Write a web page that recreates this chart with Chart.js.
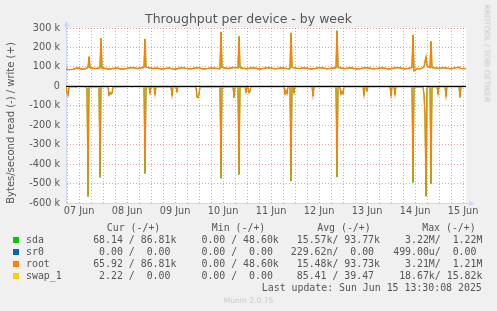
<!DOCTYPE html>
<html>
<head>
<meta charset="utf-8">
<script src="https://cdn.jsdelivr.net/npm/chart.js@4"></script>
<style>
  html, body { margin: 0; padding: 0; background: #f0f0f0; }
  #wrap { position: relative; width: 497px; height: 311px; overflow: hidden; background: #f0f0f0; }
  #chart { position: absolute; left: 0; top: 0; }
  .t { position: absolute; white-space: pre; color: #555; font-family: "DejaVu Sans", sans-serif; }
  .mono { font-family: "DejaVu Sans Mono", monospace; font-size: 9.9px; line-height: 12px; }
  .sq { position: absolute; width: 6px; height: 6px; }
</style>
</head>
<body>
<div id="wrap">
  <canvas id="chart" width="497" height="311"></canvas>
  <div class="t" id="title" style="left:0;width:497px;top:11px;text-align:center;font-size:12.5px;line-height:16px;">Throughput per device - by week</div>
  <div class="t" style="left:-89px;width:200px;top:117px;text-align:center;font-size:10px;line-height:12px;transform:rotate(-90deg);">Bytes/second read (-) / write (+)</div>
  <div class="t" style="left:412px;width:150px;top:49px;text-align:center;font-size:7.6px;line-height:9px;color:#c4c4c4;transform:rotate(90deg);">RRDTOOL / TOBI OETIKER</div>
  <div class="t" style="left:0;width:497px;top:295.5px;text-align:center;font-size:7.6px;line-height:9px;color:#c8c8c8;">Munin 2.0.75</div>
  <div id="legend"></div>
</div>
<script>
// time axis: hours since 07 Jun 00:00, one pixel = 30 minutes
const startHour = 5.5;
const endHour = 205.5;
const dayLabels = ["07 Jun", "08 Jun", "09 Jun", "10 Jun", "11 Jun", "12 Jun", "13 Jun", "14 Jun", "15 Jun"];

// write side (+), values in k bytes/s
const writeHours = [
  5.5, 7, 9, 10.5, 12, 13.5, 15, 16.5, 17, 17.5,
  19, 21, 22.5, 23, 23.5, 25, 27, 29, 31, 33,
  35, 37, 39, 41, 43, 44.5, 45, 45.5, 47, 49,
  51, 53, 55, 57, 58.5, 60, 62, 64, 66, 68,
  70, 72, 74, 76, 78, 80, 82.5, 83, 83.5, 85,
  87, 89, 91.5, 92, 92.5, 94, 96, 98, 100, 102,
  104, 106, 108, 110, 112, 114, 116, 117.5, 118, 118.5,
  120, 122, 124, 126, 128, 130, 132, 134, 136, 138,
  140.5, 141, 141.5, 143, 145, 147, 149, 151, 153, 155,
  157, 159, 161, 163, 165, 167, 169, 171, 173, 175,
  177, 178.5, 179, 179.5, 181, 183, 184.5, 185.5, 186, 187.5,
  188, 188.5, 190, 192, 194, 196, 198, 200, 202, 203, 205.5
];
const rootWrite = [
  88, 86, 87, 93, 94, 88, 90, 97, 155, 95,
  93, 92, 95, 249, 94, 93, 88, 92, 94, 89,
  90, 95, 96, 92, 94, 97, 244, 98, 95, 92,
  94, 89, 91, 95, 90, 88, 93, 96, 91, 90,
  94, 96, 89, 91, 95, 93, 90, 280, 97, 94,
  92, 97, 95, 258, 96, 93, 90, 95, 94, 89,
  92, 96, 94, 90, 93, 95, 91, 90, 275, 98,
  94, 91, 95, 93, 89, 92, 96, 94, 90, 93,
  95, 279, 97, 94, 91, 95, 93, 89, 92, 96,
  94, 90, 92, 95, 93, 89, 93, 96, 94, 90,
  93, 97, 265, 80, 92, 90, 100, 150, 105, 95,
  232, 96, 95, 92, 96, 93, 90, 95, 98, 91, 92
];
const sdaWrite = [
  88, 86, 87, 93, 94, 88, 90, 97, 150, 95,
  93, 92, 95, 247, 94, 93, 88, 92, 94, 89,
  90, 95, 96, 92, 94, 97, 242, 98, 95, 92,
  94, 89, 91, 95, 90, 88, 93, 96, 91, 90,
  94, 96, 89, 91, 95, 93, 90, 278, 97, 94,
  92, 97, 95, 256, 96, 93, 90, 95, 94, 89,
  92, 96, 94, 90, 93, 95, 91, 90, 273, 98,
  94, 91, 95, 93, 89, 92, 96, 94, 90, 93,
  95, 287, 97, 94, 91, 95, 93, 89, 92, 96,
  94, 90, 92, 95, 93, 89, 93, 96, 94, 90,
  93, 97, 263, 80, 92, 90, 100, 152, 105, 95,
  230, 96, 95, 92, 96, 93, 90, 95, 98, 91, 92
];

// read side (-), values in k bytes/s
const readHours = [
  5.5, 6, 6.5, 7, 10, 10.5, 11, 15, 15.5, 16,
  16.5, 17, 22, 22.5, 23, 26.5, 27, 27.5, 28, 28.5,
  29, 38, 38.5, 39, 44.5, 45, 45.5, 47, 47.5, 48,
  49.5, 50, 50.5, 58, 58.5, 59, 60.5, 61, 61.5, 70.5,
  71, 71.5, 72, 72.5, 82.5, 83, 83.5, 89, 89.5, 90,
  91.5, 92, 92.5, 95, 95.5, 96, 96.5, 97, 97.5, 98,
  114.5, 115, 115.5, 116, 116.5, 117.5, 118, 118.5, 119, 119.5,
  120, 128.5, 129, 129.5, 140.5, 141, 141.5, 142.5, 143, 143.5,
  144, 144.5, 154, 154.5, 155, 155.5, 156, 156.5, 167.5, 168,
  168.5, 169.5, 170, 170.5, 178.5, 179, 179.5, 184, 184.5, 185,
  185.5, 186, 187.5, 188, 188.5, 191, 191.5, 192, 195, 195.5,
  196, 202, 202.5, 203, 205.5
];
const rootRead = [
  -2, -30, -47, -3, -1, -7, -1, -2, -5, -8,
  -565, -3, -2, -465, -2, -2, -45, -30, -40, -35,
  -3, -1, -4, -1, -2, -447, -3, -2, -35, -3,
  -2, -42, -3, -2, -47, -3, -2, -27, -2, -2,
  -55, -59, -40, -3, -2, -472, -3, -2, -55, -3,
  -2, -452, -3, -2, -30, -3, -2, -33, -25, -2,
  -2, -39, -20, -38, -2, -2, -486, -3, -2, -33,
  -2, -2, -49, -2, -2, -465, -3, -2, -40, -25,
  -38, -2, -2, -46, -3, -2, -23, -2, -2, -47,
  -3, -2, -43, -2, -2, -487, -3, -3, -40, -150,
  -567, -3, -2, -500, -3, -2, -39, -2, -2, -52,
  -2, -2, -56, -2, -1
];
const sdaRead = [
  -2, -31, -48, -3, -1, -7, -1, -2, -5, -8,
  -567, -3, -2, -469, -2, -2, -48, -31, -42, -36,
  -3, -1, -4, -1, -2, -449, -3, -2, -36, -3,
  -2, -43, -3, -2, -48, -3, -2, -28, -2, -2,
  -56, -60, -41, -3, -2, -474, -3, -2, -58, -3,
  -2, -454, -3, -2, -31, -3, -2, -34, -26, -2,
  -2, -40, -21, -39, -2, -2, -488, -3, -2, -34,
  -2, -2, -50, -2, -2, -467, -3, -2, -41, -26,
  -39, -2, -2, -47, -3, -2, -24, -2, -2, -48,
  -3, -2, -44, -2, -2, -495, -3, -3, -41, -152,
  -565, -3, -2, -501, -3, -2, -40, -2, -2, -53,
  -2, -2, -57, -2, -1
];

// sr0 and swap_1 stay on zero
const flatHours = [5.5, 205.5];
const sr0Read = [0, 0];
const sr0Write = [0, 0];
const swapRead = [0, 0];
const swapWrite = [0, 0];

// legend table
const seriesNames = ["sda", "sr0", "root", "swap_1"];
const seriesColors = ["#00CC00", "#0066B3", "#FF8000", "#FFCC00"];
const curText = [" 68.14 / 86.81k", "  0.00 /  0.00 ", " 65.92 / 86.81k", "  2.22 /  0.00 "];
const minText = ["  0.00 / 48.60k", "  0.00 /  0.00 ", "  0.00 / 48.60k", "  0.00 /  0.00 "];
const avgText = [" 15.57k/ 93.77k", "229.62n/  0.00 ", " 15.48k/ 93.73k", " 85.41 / 39.47 "];
const maxText = ["  3.22M/  1.22M", "499.00u/  0.00 ", "  3.21M/  1.21M", " 18.67k/ 15.82k"];
const headers = ["Cur (-/+)", "Min (-/+)", "Avg (-/+)", "Max (-/+)"];
const lastUpdate = "Last update: Sun Jun 15 13:30:08 2025";

const legend = document.getElementById("legend");
const addText = (txt, x, cy) => {
    const d = document.createElement("div");
    d.className = "t mono";
    d.style.left = x + "px";
    d.style.top = (cy - 6) + "px";
    d.textContent = txt;
    legend.appendChild(d);
};
const headerX = [106.8, 211.8, 317.2, 422.2];
const colX = [87.2, 189.6, 290.8, 393.2];
headers.forEach((h, i) => addText(h, headerX[i], 227.6));
seriesNames.forEach((name, r) => {
    const cy = 239.5 + r * 12.1;
    const sq = document.createElement("div");
    sq.className = "sq";
    sq.style.left = "13px";
    sq.style.top = (cy - 3) + "px";
    sq.style.background = seriesColors[r];
    legend.appendChild(sq);
    addText(name, 26, cy);
    [curText, minText, avgText, maxText].forEach((col, c) => addText(col[r], colX[c], cy));
});
addText(lastUpdate, 261.8, 287.6);

const toPoints = (hours, values) => hours.map((h, i) => ({ x: h, y: values[i] * 1000 }));
const lineSet = (hours, values, color, order, width) => ({
    data: toPoints(hours, values),
    borderColor: color,
    borderWidth: width || 1,
    pointRadius: 0,
    tension: 0,
    fill: false,
    order: order
});

const gridTicks = [];
for (let h = 6; h <= 204; h += 6) gridTicks.push({ value: h });

const axisColor = "#CFD6F8";
const majorGrid = "rgba(230,100,100,0.6)";
const minorGrid = "rgba(150,150,150,0.6)";

const frame = {
    id: "frame",
    beforeDraw(chart) {
        const { ctx, chartArea: a } = chart;
        ctx.save();
        ctx.fillStyle = "#f0f0f0";
        ctx.fillRect(0, 0, chart.width, chart.height);
        ctx.fillStyle = "#ffffff";
        ctx.fillRect(a.left, a.top, a.right - a.left, a.bottom - a.top);
        ctx.restore();
    },
    afterDatasetsDraw(chart) {
        const { ctx, chartArea: a } = chart;
        const y0 = Math.round(chart.scales.y.getPixelForValue(0)) + 0.5;
        ctx.save();
        ctx.strokeStyle = "#000";
        ctx.lineWidth = 1;
        ctx.beginPath();
        ctx.moveTo(a.left, y0);
        ctx.lineTo(a.right, y0);
        ctx.stroke();
        ctx.restore();
    },
    afterDraw(chart) {
        const { ctx, chartArea: a } = chart;
        ctx.save();
        ctx.strokeStyle = axisColor;
        ctx.fillStyle = axisColor;
        ctx.lineWidth = 1;
        ctx.beginPath();
        ctx.moveTo(a.left + 0.5, a.top);
        ctx.lineTo(a.left + 0.5, a.top - 4);
        ctx.moveTo(a.right, a.bottom + 0.5);
        ctx.lineTo(a.right + 4, a.bottom + 0.5);
        ctx.stroke();
        ctx.beginPath();
        ctx.moveTo(a.left - 2.5, a.top - 1.5);
        ctx.lineTo(a.left + 3.5, a.top - 1.5);
        ctx.lineTo(a.left + 0.5, a.top - 7);
        ctx.closePath();
        ctx.fill();
        ctx.beginPath();
        ctx.moveTo(a.right + 3, a.bottom - 2.5);
        ctx.lineTo(a.right + 3, a.bottom + 3.5);
        ctx.lineTo(a.right + 8.5, a.bottom + 0.5);
        ctx.closePath();
        ctx.fill();
        ctx.restore();
    }
};

Chart.defaults.font.family = "DejaVu Sans";

new Chart(document.getElementById("chart"), {
    type: "line",
    data: {
        datasets: [
            lineSet(readHours, sdaRead, "#00CC00", 8),
            lineSet(writeHours, sdaWrite, "#00CC00", 7),
            lineSet(flatHours, sr0Read, "#0066B3", 6),
            lineSet(flatHours, sr0Write, "#0066B3", 5),
            lineSet(readHours, rootRead, "#FF8000", 4, 1.2),
            lineSet(writeHours, rootWrite, "#FF8000", 3, 1.4),
            lineSet(flatHours, swapRead, "#FFCC00", 2),
            lineSet(flatHours, swapWrite, "#FFCC00", 1)
        ]
    },
    options: {
        responsive: false,
        animation: false,
        devicePixelRatio: 1,
        events: [],
        layout: { padding: { left: 0, top: 28, right: 31, bottom: 0 } },
        plugins: {
            legend: { display: false },
            tooltip: { enabled: false },
            title: { display: false }
        },
        scales: {
            x: {
                type: "linear",
                min: startHour,
                max: endHour,
                afterBuildTicks: s => { s.ticks = gridTicks.map(t => ({ value: t.value })); },
                afterFit: s => { s.height = 108; },
                grid: {
                    drawTicks: false,
                    lineWidth: 1,
                    color: c => (c.tick && c.tick.value % 24 === 0) ? majorGrid : minorGrid
                },
                border: { color: axisColor, width: 1, dash: [1, 2] },
                ticks: {
                    autoSkip: false,
                    maxRotation: 0,
                    padding: 3,
                    color: "#555",
                    font: { size: 9.7 },
                    callback: v => (v % 24 === 12) ? dayLabels[(v - 12) / 24] : ""
                }
            },
            y: {
                min: -600000,
                max: 300000,
                afterFit: s => { s.width = 66; },
                grid: {
                    drawTicks: false,
                    lineWidth: 1,
                    color: c => {
                        if (!c.tick) return minorGrid;
                        if (c.tick.value === 0) return "#000";
                        return c.tick.value % 100000 === 0 ? majorGrid : minorGrid;
                    }
                },
                border: {
                    color: axisColor,
                    width: 1,
                    dash: c => (c.tick && c.tick.value === 0) ? [] : [1, 2]
                },
                ticks: {
                    stepSize: 50000,
                    padding: 6,
                    color: "#555",
                    font: { size: 9.7 },
                    callback: v => v === 0 ? "0" : (v % 100000 === 0 ? (v / 1000) + " k" : "")
                }
            }
        }
    },
    plugins: [frame]
});
</script>
</body>
</html>
